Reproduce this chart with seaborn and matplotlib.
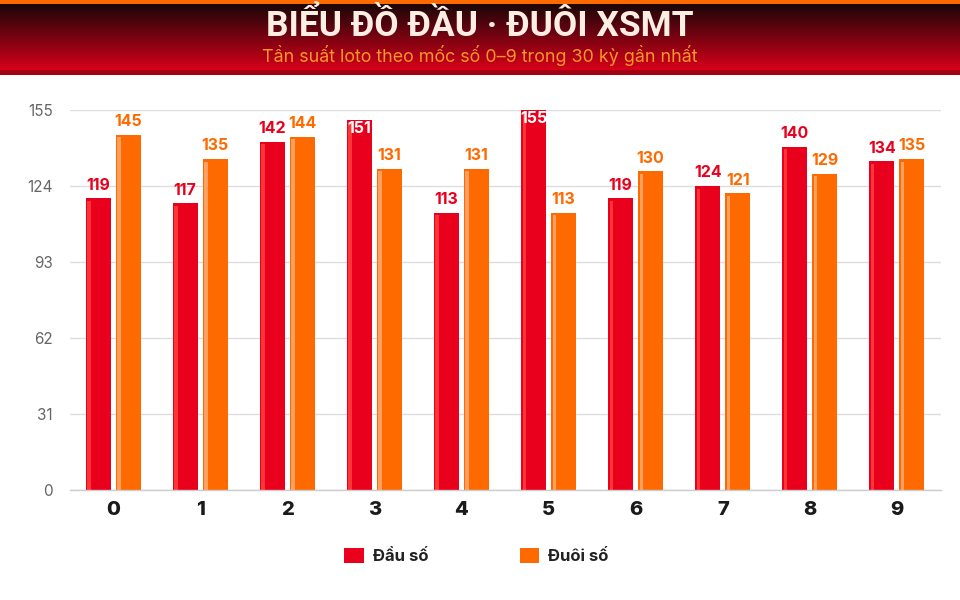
import numpy as np
import pandas as pd
import matplotlib
matplotlib.use("Agg")
import matplotlib.pyplot as plt
from matplotlib.patches import Rectangle, Patch
import seaborn as sns

# ---- data ----
digits = ["0", "1", "2", "3", "4", "5", "6", "7", "8", "9"]
dau_so = [119, 117, 142, 151, 113, 155, 119, 124, 140, 134]
duoi_so = [145, 135, 144, 131, 131, 113, 130, 121, 129, 135]
series_names = ["Đầu số", "Đuôi số"]
yticks = [0, 31, 62, 93, 124, 155]
title = "BIỂU ĐỒ ĐẦU · ĐUÔI XSMT"
subtitle = "Tần suất loto theo mốc số 0–9 trong 30 kỳ gần nhất"

RED = "#e8001c"
ORANGE = "#ff6a00"
RED_HI = "#ff3535"
ORANGE_HI = "#ffa062"

df = pd.DataFrame({
    "digit": digits * 2,
    "value": dau_so + duoi_so,
    "series": [series_names[0]] * len(digits) + [series_names[1]] * len(digits),
})

sns.set_theme(style="white")
plt.rcParams["font.family"] = ["Inter", "DejaVu Sans"]

W, H = 960, 600
fig = plt.figure(figsize=(9.6, 6.0), dpi=100)
fig.patch.set_facecolor("white")

# ---- header ----
hdr = fig.add_axes([0, 1 - 75 / H, 1, 75 / H])
hdr.set_xlim(0, W)
hdr.set_ylim(75, 0)
hdr.axis("off")
c_top = np.array([0x1a, 0x06, 0x08]) / 255
c_bot = np.array([0xd6, 0x00, 0x1a]) / 255
t = np.linspace(0, 1, 200)[:, None]
grad = (c_top[None, :] * (1 - t) + c_bot[None, :] * t)[:, None, :]
hdr.imshow(grad, extent=[0, W, 70, 4], aspect="auto", interpolation="bilinear")
hdr.add_patch(Rectangle((0, 0), W, 4, color="#ff6a00", lw=0))
hdr.add_patch(Rectangle((0, 70), W, 5, color="#a30013", lw=0))
hdr.text(W / 2, 36, title, ha="center", va="baseline", color="#fdeee4",
         fontsize=25.5, fontweight="bold", family=["Roboto", "DejaVu Sans"])
hdr.text(W / 2, 62, subtitle, ha="center", va="baseline", color="#f7962a",
         fontsize=12.9, family=["Inter", "DejaVu Sans"])

# ---- main axes ----
ax = fig.add_axes([69.5 / W, 1 - 490 / H, (940.5 - 69.5) / W, (490 - 110) / H])
sns.barplot(data=df, x="digit", y="value", hue="series", order=digits,
            hue_order=series_names, palette=[RED, ORANGE], width=0.69, gap=0.167,
            saturation=1, ax=ax, legend=False, errorbar=None)
ax.set_xlim(-0.5, len(digits) - 0.5)
ax.set_ylim(0, 155)
ax.set_yticks(yticks)
ax.set_yticklabels([str(v) for v in yticks], color="#666666", fontsize=11)
ax.yaxis.grid(True, color="#dddddd", lw=1)
ax.set_axisbelow(True)
for s in ["top", "right", "left"]:
    ax.spines[s].set_visible(False)
ax.spines["bottom"].set_color("#cccccc")
ax.spines["bottom"].set_linewidth(1)
ax.tick_params(axis="both", length=0)
ax.tick_params(axis="y", pad=12)
ax.tick_params(axis="x", pad=8)
for lbl in ax.get_xticklabels():
    lbl.set_fontsize(14.5)
    lbl.set_fontweight("heavy")
    lbl.set_color("#1a1a1a")
ax.set_xlabel("")
ax.set_ylabel("")

# px to data conversion
px_x = (len(digits)) / (940.5 - 69.5)
px_y = 155 / (490 - 110)

bars = [p for p in ax.patches if isinstance(p, Rectangle) and p.get_height() > 0]
for p in bars:
    x0 = p.get_x()
    w = p.get_width()
    h = p.get_height()
    fc = matplotlib.colors.to_hex(p.get_facecolor())
    is_red = fc.lower() == RED
    hi = RED_HI if is_red else ORANGE_HI
    lab_col = RED if is_red else ORANGE
    p.set_clip_on(False)
    p.set_linewidth(0)
    ax.add_patch(Rectangle((x0 + 1.5 * px_x, 0), 3.5 * px_x, h - 2.5 * px_y,
                           color=hi, lw=0, zorder=p.get_zorder() + 0.1))
    cx = x0 + w / 2
    if h + 7.5 > 155:
        ax.annotate(f"{int(round(h))}", (cx, h), xytext=(0, -1), textcoords="offset points",
                    ha="center", va="top", color="white", fontsize=11.5, fontweight="bold",
                    zorder=5)
    else:
        ax.annotate(f"{int(round(h))}", (cx, h), xytext=(0, 4), textcoords="offset points",
                    ha="center", va="bottom", color=lab_col, fontsize=11.5, fontweight="bold",
                    zorder=5)

# ---- legend ----
handles = [Patch(facecolor=RED, edgecolor="none", label=series_names[0]),
           Patch(facecolor=ORANGE, edgecolor="none", label=series_names[1])]
leg = fig.legend(handles=handles, loc="center", bbox_to_anchor=(476.5 / W, 44 / H),
                 ncol=2, frameon=False, handlelength=1.15, handleheight=0.96,
                 handletextpad=0.55, columnspacing=5.5,
                 prop={"size": 12, "weight": "bold", "family": ["Inter", "DejaVu Sans"]})
for txt in leg.get_texts():
    txt.set_color("#222222")

fig.savefig("out.png", dpi=100, facecolor="white")
